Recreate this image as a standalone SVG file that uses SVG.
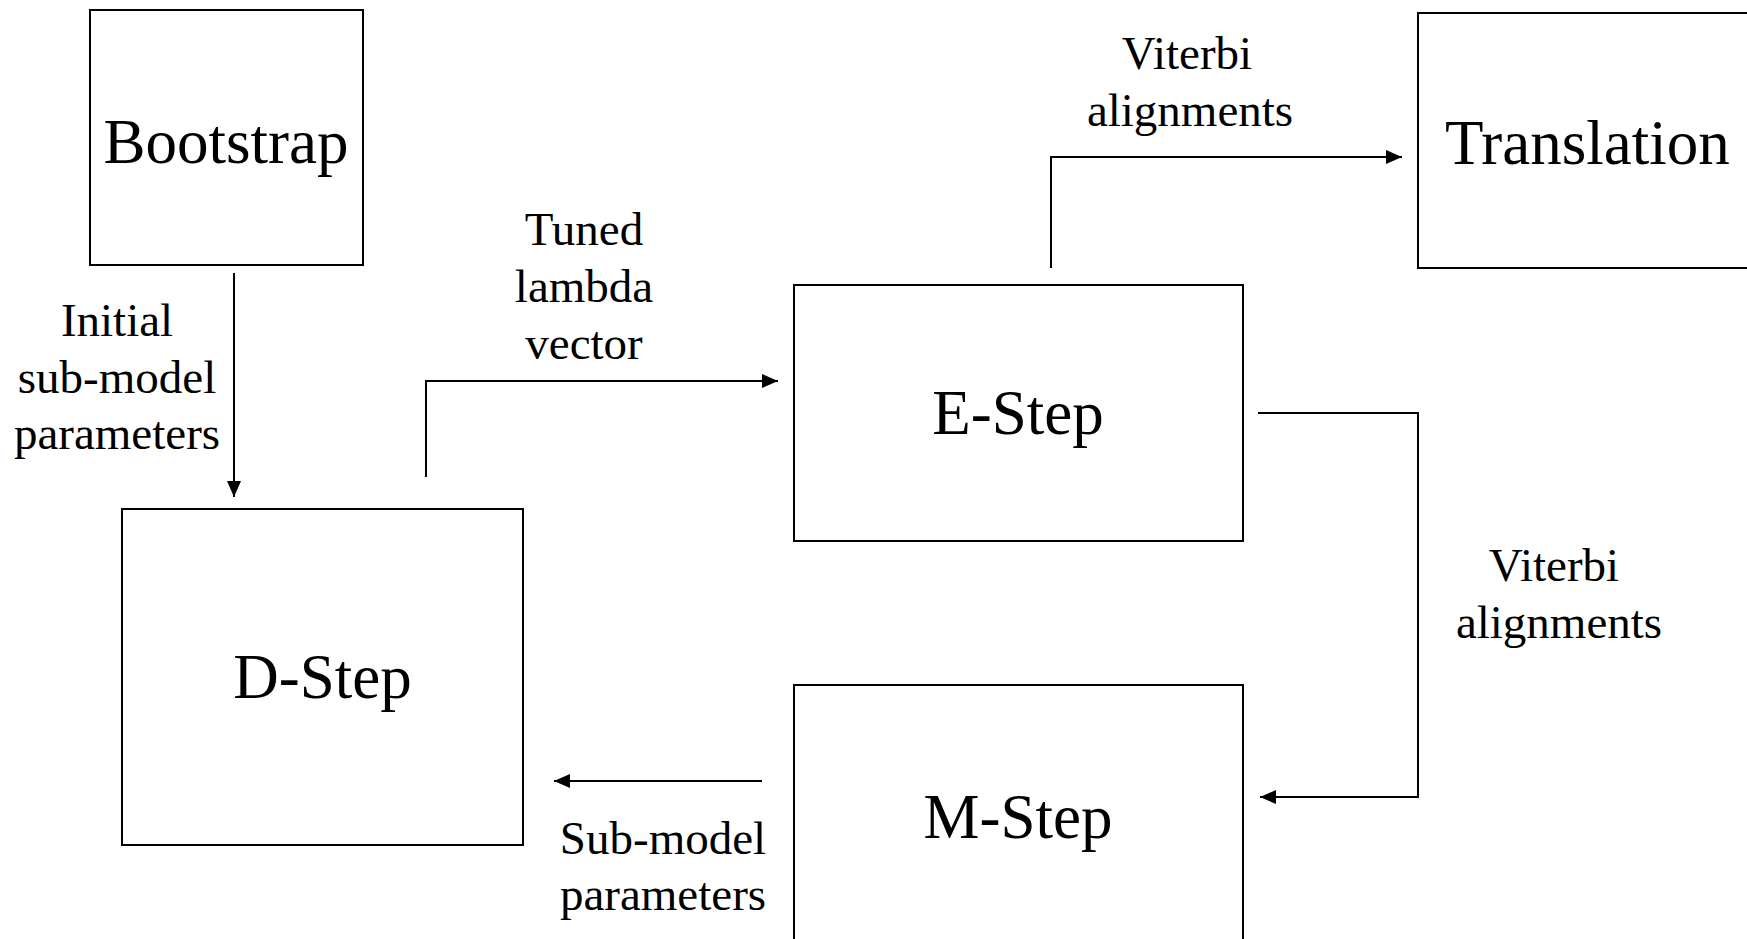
<svg xmlns="http://www.w3.org/2000/svg" width="1747" height="939" viewBox="0 0 1747 939">
<style>
.box{fill:#fff;stroke:#000;stroke-width:2}
.big{font-family:"Liberation Serif","Times New Roman",serif;font-size:63px;fill:#000}
.lbl{font-family:"Liberation Serif","Times New Roman",serif;font-size:47px;fill:#000;text-anchor:middle}
.con{fill:none;stroke:#000;stroke-width:2}
</style>
<defs>
<marker id="arr" viewBox="0 0 16 14" refX="16" refY="7" markerWidth="16" markerHeight="14" markerUnits="userSpaceOnUse" orient="auto">
<path d="M0,0 L16,7 L0,14 z" fill="#000"/>
</marker>
</defs>
<rect width="1747" height="939" fill="#fff"/>
<g id="bootstrap">
<rect class="box" x="90" y="10" width="273" height="255"/>
<text class="big" x="226" y="163" text-anchor="middle">Bootstrap</text>
</g>
<g id="translation">
<rect class="box" x="1418" y="13" width="360" height="255"/>
<text class="big" x="1445" y="164">Translation</text>
</g>
<g id="estep">
<rect class="box" x="794" y="285" width="449" height="256"/>
<text class="big" x="1018" y="434" text-anchor="middle">E-Step</text>
</g>
<g id="dstep">
<rect class="box" x="122" y="509" width="401" height="336"/>
<text class="big" x="322.5" y="698" text-anchor="middle">D-Step</text>
</g>
<g id="mstep">
<rect class="box" x="794" y="685" width="449" height="300"/>
<text class="big" x="1018" y="838" text-anchor="middle">M-Step</text>
</g>
<g id="connectors">
<path class="con" d="M234,273 L234,497" marker-end="url(#arr)"/>
<path class="con" d="M426,477 L426,381 L778,381" marker-end="url(#arr)"/>
<path class="con" d="M1051,268 L1051,157 L1402,157" marker-end="url(#arr)"/>
<path class="con" d="M1258,413 L1418,413 L1418,797 L1260,797" marker-end="url(#arr)"/>
<path class="con" d="M762,781 L554,781" marker-end="url(#arr)"/>
<text class="lbl" x="117" y="336">Initial</text>
<text class="lbl" x="117" y="393">sub-model</text>
<text class="lbl" x="117" y="449">parameters</text>
<text class="lbl" x="584" y="245">Tuned</text>
<text class="lbl" x="584" y="302">lambda</text>
<text class="lbl" x="584" y="359">vector</text>
<text class="lbl" x="1187" y="69">Viterbi</text>
<text class="lbl" x="1190" y="126">alignments</text>
<text class="lbl" x="1554" y="581">Viterbi</text>
<text class="lbl" x="1559" y="638">alignments</text>
<text class="lbl" x="663" y="854">Sub-model</text>
<text class="lbl" x="663" y="910">parameters</text>
</g>
</svg>
